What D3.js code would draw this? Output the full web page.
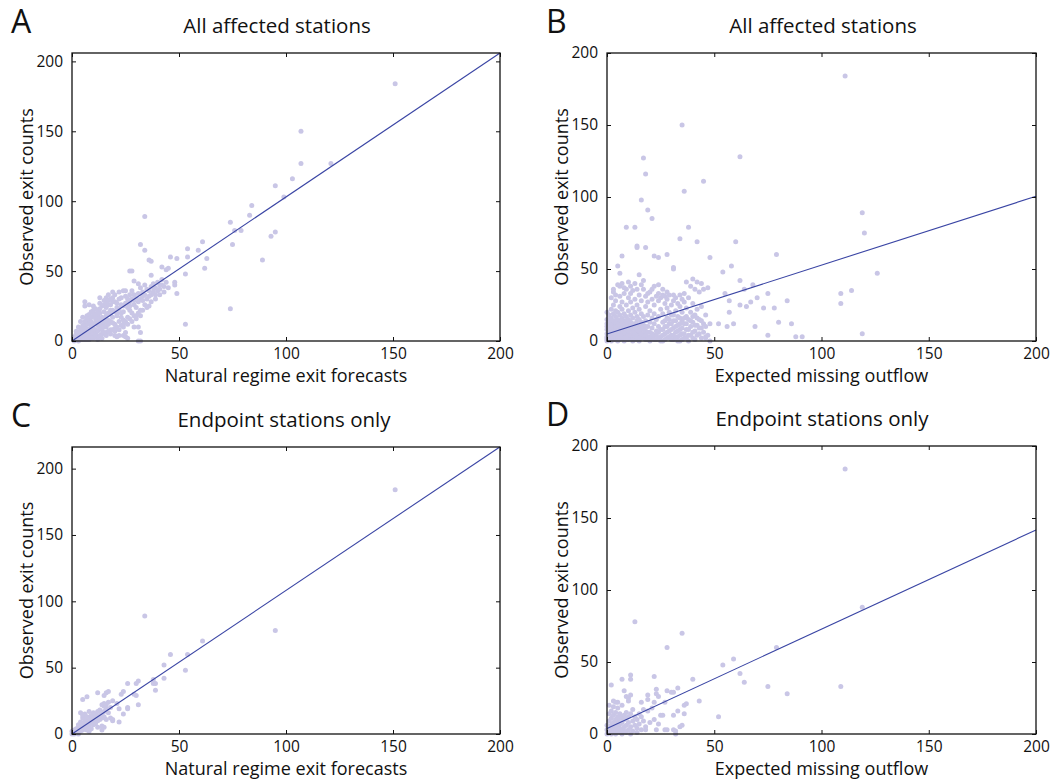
<!DOCTYPE html>
<html>
<head>
<meta charset="utf-8">
<script src="https://cdn.jsdelivr.net/npm/d3@7"></script>
<style>
  body { margin: 0; background: #fff; }
  svg text { font-family: "Open Sans", sans-serif; fill: #111; }
  .dot { fill: #c9c6e6; }
  .fit { stroke: #3a45a4; stroke-width: 1.1; fill: none; }
  .frame { fill: none; stroke: #111; stroke-width: 1.3; }
  .tick line { stroke: #111; }
</style>
</head>
<body>
<div id="chart"></div>
<script>
// panel titles / labels
const panelLetters = ["A", "B", "C", "D"];
const panelTitles = ["All affected stations", "All affected stations", "Endpoint stations only", "Endpoint stations only"];
const xLabels = ["Natural regime exit forecasts", "Expected missing outflow", "Natural regime exit forecasts", "Expected missing outflow"];
const yLabel = "Observed exit counts";
const xTicks = [0, 50, 100, 150, 200];
const yTicks = [0, 50, 100, 150, 200];
const xMax = [200, 200, 200, 200];
const yMax = [206, 200, 216.3, 200];

// fitted lines: [intercept, slope]
const fitA = [0, 1.03];
const fitB = [4.9, 0.478];
const fitC = [0, 1.082];
const fitD = [3.9, 0.689];

// A: natural regime forecast vs observed (all affected stations)
const pointsA = [
  [151, 184], [107, 150], [107, 127], [121, 127], [103, 116], [95, 111], [99, 103], [84, 97], [83, 90],
  [74, 85], [76, 79], [79, 79], [95, 78], [93, 75], [75, 69], [89, 58], [74, 23], [34, 89], [32, 69],
  [34, 65], [61, 71], [59, 65], [54, 66], [54, 60], [63, 59], [46, 60], [49, 59], [36, 58], [62, 52],
  [42, 53], [44, 51], [53, 48], [48, 42], [48, 40], [49, 34], [53, 12], [27, 50], [37, 47], [29, 43],
  [32, 0], [31, 0], [21, 3], [24, 4], [37, 57], [28, 50], [45, 52], [31, 41], [16, 31], [13, 31], [10, 25],
  [6, 25], [31, 10], [32, 6], [25, 3], [22, 4],
  [1, 0], [1, 2], [2, 1], [2, 3], [3, 2], [3, 4], [3, 0], [4, 5], [4, 3], [4, 1], [5, 6], [5, 2], [5, 8],
  [6, 4], [6, 7], [6, 10], [7, 5], [7, 9], [7, 3], [8, 8], [8, 12], [8, 6], [9, 10], [9, 4], [9, 14],
  [10, 9], [10, 12], [10, 7], [11, 13], [11, 16], [11, 8], [12, 11], [12, 15], [12, 18], [13, 12], [13, 9],
  [13, 20], [14, 14], [14, 17], [14, 11], [15, 16], [15, 21], [15, 13], [16, 18], [16, 24], [16, 10],
  [17, 15], [17, 20], [18, 19], [18, 26], [18, 14], [19, 22], [19, 17], [20, 21], [20, 28], [20, 9],
  [21, 24], [21, 18], [22, 23], [22, 30], [23, 20], [23, 26], [24, 25], [24, 15], [25, 27], [25, 32],
  [26, 24], [26, 30], [27, 28], [27, 22], [28, 30], [28, 36], [29, 26], [29, 33], [30, 31], [30, 24],
  [31, 34], [31, 28], [32, 30], [32, 38], [33, 35], [33, 29], [34, 33], [34, 40], [35, 37], [35, 30],
  [36, 36], [37, 39], [37, 33], [38, 41], [38, 35], [39, 38], [40, 42], [40, 36], [41, 40], [42, 44],
  [43, 39], [44, 42], [6, 28], [8, 26], [10, 22], [13, 27], [5, 17], [4, 14], [3, 10], [2, 7], [7, 18],
  [9, 21], [11, 23], [15, 29], [17, 33], [19, 35], [12, 3], [14, 5], [16, 6], [18, 8], [20, 12], [22, 14],
  [24, 10], [26, 17], [28, 20], [30, 18], [32, 22], [36, 25], [26, 2], [20, 4], [25, 6], [29, 10],
  [1, 1], [2, 2], [3, 3], [2, 5], [4, 7], [5, 4], [6, 2], [7, 1], [8, 3], [9, 7], [10, 4], [11, 5],
  [12, 7], [13, 16], [14, 8], [15, 10], [16, 14], [17, 12], [18, 22], [19, 13], [21, 20], [23, 17],
  [24, 21], [26, 27], [27, 25], [29, 29], [33, 32], [36, 32], [38, 38], [39, 33], [41, 37], [42, 40],
  [17, 26], [19, 28], [21, 27], [23, 31], [25, 36], [27, 33], [10, 18], [8, 16], [7, 13], [6, 12],
  [3, 6], [4, 9], [5, 11], [6, 14], [7, 16], [8, 19], [9, 17], [10, 20], [11, 19], [12, 21], [13, 23],
  [14, 25], [15, 26], [16, 27], [17, 29], [18, 30], [19, 31], [20, 33], [22, 35], [24, 36], [1, 3],
  [2, 4], [3, 1], [4, 2], [5, 1], [6, 1], [7, 2], [8, 1], [9, 2], [10, 2], [11, 3], [12, 1], [13, 4],
  [14, 2], [15, 6], [16, 4], [17, 7], [18, 5], [19, 8], [20, 7], [21, 10], [22, 8], [23, 11], [24, 12],
  [25, 14], [26, 12], [27, 16], [28, 14], [29, 18], [30, 16], [31, 20], [32, 18], [33, 22], [34, 26],
  [35, 24], [37, 28], [39, 30], [41, 33], [43, 35], [45, 38]
];

// B: expected missing outflow vs observed (all affected stations)
const pointsB = [
  [111, 184], [35, 150], [17, 127], [62, 128], [18, 116], [45, 111], [36, 104], [16, 98], [19, 91],
  [21, 85], [119, 89], [120, 75], [9, 79], [13, 79], [38, 79], [14, 66], [14, 65], [18, 65], [34, 71],
  [42, 69], [60, 69], [7, 59], [22, 59], [24, 58], [28, 60], [48, 58], [79, 60], [5, 52], [31, 51],
  [31, 50], [58, 52], [54, 48], [126, 47], [6, 47], [15, 46], [62, 42], [109, 33], [114, 35], [109, 26],
  [75, 33], [84, 28], [78, 23], [73, 23], [67, 27], [62, 25], [65, 24], [57, 28], [57, 20], [55, 33],
  [59, 12], [56, 10], [52, 12], [80, 13], [86, 12], [69, 10], [75, 4], [88, 3], [91, 3], [119, 5],
  [48, 0], [46, 3], [68, 39], [64, 36], [70, 30],
  [0, 2], [0, 5], [0, 8], [0, 12], [0, 20], [1, 1], [1, 4], [1, 7], [1, 10], [1, 15], [1, 18], [2, 0],
  [2, 3], [2, 6], [2, 9], [2, 13], [2, 16], [2, 22], [2, 30], [3, 1], [3, 5], [3, 8], [3, 11], [3, 14],
  [3, 19], [3, 25], [3, 34], [3, 36], [4, 2], [4, 4], [4, 7], [4, 12], [4, 17], [4, 21], [4, 28], [5, 0],
  [5, 3], [5, 6], [5, 10], [5, 15], [5, 20], [5, 39], [6, 1], [6, 5], [6, 9], [6, 13], [6, 18], [6, 24],
  [6, 31], [6, 38], [7, 2], [7, 7], [7, 11], [7, 16], [7, 22], [7, 27], [7, 40], [8, 0], [8, 4], [8, 8],
  [8, 14], [8, 19], [8, 33], [9, 3], [9, 6], [9, 12], [9, 17], [9, 25], [9, 36], [10, 1], [10, 5],
  [10, 10], [10, 15], [10, 21], [10, 30], [10, 41], [11, 2], [11, 8], [11, 13], [11, 18], [11, 27],
  [11, 38], [12, 0], [12, 4], [12, 9], [12, 16], [12, 23], [12, 35], [13, 3], [13, 7], [13, 12],
  [13, 20], [13, 29], [13, 40], [14, 1], [14, 6], [14, 11], [14, 17], [14, 25], [15, 0], [15, 4],
  [15, 9], [15, 15], [15, 22], [15, 32], [16, 2], [16, 8], [16, 13], [16, 19], [16, 28], [17, 5],
  [17, 11], [17, 17], [17, 36], [17, 42], [18, 1], [18, 7], [18, 14], [18, 24], [18, 31], [19, 3],
  [19, 10], [19, 18], [19, 27], [20, 0], [20, 6], [20, 13], [20, 21], [20, 34], [21, 2], [21, 9],
  [21, 16], [21, 29], [22, 4], [22, 12], [22, 19], [22, 25], [22, 38], [23, 1], [23, 7], [23, 15],
  [23, 31], [24, 10], [24, 17], [24, 28], [24, 33], [25, 3], [25, 8], [25, 22], [25, 30], [26, 0],
  [26, 13], [26, 19], [26, 32], [27, 5], [27, 10], [27, 26], [27, 31], [28, 2], [28, 16], [28, 23],
  [28, 29], [29, 7], [29, 12], [29, 20], [29, 32], [30, 4], [30, 18], [30, 25], [31, 1], [31, 9],
  [31, 14], [31, 28], [31, 32], [32, 6], [32, 21], [32, 30], [33, 3], [33, 11], [33, 17], [33, 26],
  [34, 0], [34, 8], [34, 24], [34, 32], [35, 5], [35, 14], [35, 20], [35, 29], [36, 2], [36, 12],
  [36, 27], [36, 33], [37, 8], [37, 17], [37, 23], [37, 41], [38, 4], [38, 15], [38, 30], [39, 10],
  [39, 20], [39, 38], [40, 2], [40, 13], [40, 26], [40, 43], [41, 7], [41, 18], [41, 36], [42, 11],
  [42, 22], [42, 41], [43, 5], [43, 15], [43, 34], [44, 9], [44, 24], [44, 40], [45, 12], [45, 36],
  [46, 2], [46, 18], [47, 37], [48, 12],
  [20, 3], [21, 5], [22, 1], [23, 4], [24, 2], [24, 6], [25, 0], [26, 4], [26, 8], [27, 1], [27, 14],
  [28, 6], [28, 10], [29, 3], [29, 15], [30, 1], [30, 8], [30, 12], [31, 4], [31, 18], [32, 2], [32, 10],
  [32, 14], [33, 0], [33, 7], [34, 4], [34, 12], [34, 16], [35, 1], [35, 9], [36, 5], [36, 16], [37, 2],
  [37, 12], [38, 0], [38, 8], [39, 4], [39, 14], [40, 6], [40, 17], [41, 1], [41, 11], [42, 4], [42, 16],
  [43, 9], [44, 2], [44, 14], [45, 6], [46, 10], [47, 4],
  [0, 0], [0, 1], [0, 3], [0, 10], [0, 15], [1, 2], [1, 5], [1, 12], [2, 1], [2, 4], [2, 8], [2, 11],
  [3, 2], [3, 6], [3, 9], [4, 1], [4, 5], [4, 9], [4, 14], [5, 2], [5, 7], [5, 12], [6, 3], [6, 7],
  [6, 11], [7, 4], [7, 9], [7, 14], [8, 2], [8, 6], [8, 11], [9, 1], [9, 8], [9, 14], [10, 3], [10, 7],
  [10, 12], [11, 4], [11, 10], [12, 2], [12, 6], [12, 12], [13, 1], [13, 5], [13, 9], [14, 3], [14, 8],
  [14, 14], [15, 2], [15, 7], [16, 5], [16, 11], [17, 2], [17, 8], [18, 4], [18, 10], [19, 1], [19, 6],
  [11, 33], [14, 36], [16, 39], [19, 33], [21, 36], [24, 39], [26, 36], [28, 34], [8, 37], [4, 32]
];

// C: natural regime forecast vs observed (endpoint stations)
const pointsC = [
  [151, 184], [34, 89], [95, 78], [61, 70], [46, 60], [54, 60], [43, 52], [53, 48], [43, 42], [38, 41],
  [39, 33], [38, 38], [39, 38], [26, 38], [31, 40], [30, 38], [31, 22], [30, 29], [29, 30], [24, 32],
  [23, 30], [22, 9], [19, 11], [21, 23], [26, 20], [26, 19], [24, 15], [12, 31], [7, 28], [5, 26],
  [16, 31], [17, 32], [15, 29], [15, 21], [16, 11], [14, 3], [22, 19], [19, 10], [15, 5], [14, 6],
  [0, 0], [0, 2], [1, 1], [1, 3], [1, 0], [2, 2], [2, 4], [2, 1], [3, 3], [3, 5], [3, 0], [3, 7],
  [4, 4], [4, 6], [4, 2], [4, 9], [4, 16], [5, 5], [5, 8], [5, 3], [5, 12], [5, 14], [6, 6], [6, 9],
  [6, 4], [6, 11], [6, 15], [7, 7], [7, 10], [7, 5], [7, 13], [7, 3], [8, 8], [8, 12], [8, 6], [8, 17],
  [8, 2], [9, 9], [9, 14], [9, 11], [9, 4], [10, 10], [10, 13], [10, 7], [10, 16], [11, 12], [11, 15],
  [11, 8], [12, 13], [12, 17], [12, 10], [12, 5], [13, 14], [13, 18], [13, 11], [14, 15], [14, 22],
  [14, 12], [15, 23], [15, 17], [15, 13], [16, 22], [16, 19], [17, 24], [17, 16], [18, 20], [18, 12],
  [19, 25]
];

// D: expected missing outflow vs observed (endpoint stations)
const pointsD = [
  [111, 184], [119, 88], [13, 78], [35, 70], [28, 60], [79, 60], [59, 52], [54, 48], [62, 42], [64, 36],
  [75, 33], [109, 33], [84, 28], [52, 12], [43, 23], [40, 38], [37, 21], [36, 20], [36, 14], [33, 16],
  [34, 5], [35, 6], [32, 2], [31, 3], [27, 3], [23, 3], [18, 3], [11, 41], [11, 38], [22, 40], [7, 38],
  [2, 34], [28, 30], [30, 29], [31, 29], [33, 32], [23, 31], [23, 28], [19, 27], [19, 24], [22, 22],
  [25, 13], [22, 10], [27, 22], [9, 26], [11, 27], [10, 23], [1, 20], [3, 23], [5, 22], [16, 22],
  [14, 4], [17, 17], [16, 12], [31, 13], [26, 13], [32, 0], [28, 3], [24, 7], [4, 22], [10, 25],
  [0, 0], [0, 3], [0, 6], [1, 1], [1, 4], [1, 9], [1, 14], [2, 0], [2, 2], [2, 6], [2, 11], [2, 16],
  [3, 1], [3, 4], [3, 8], [3, 13], [3, 19], [4, 0], [4, 3], [4, 6], [4, 10], [4, 15], [5, 2], [5, 5],
  [5, 9], [5, 12], [5, 18], [6, 1], [6, 4], [6, 7], [6, 11], [6, 14], [7, 0], [7, 3], [7, 8], [7, 12],
  [7, 20], [8, 2], [8, 5], [8, 10], [8, 13], [9, 1], [9, 6], [9, 11], [9, 15], [10, 3], [10, 8], [10, 12],
  [11, 0], [11, 5], [11, 14], [12, 2], [12, 9], [12, 17], [13, 6], [13, 12], [14, 1], [14, 10],
  [15, 7], [15, 14], [16, 3], [17, 9], [18, 5], [19, 16], [20, 8], [21, 18], [24, 26], [8, 30]
];

const panelPoints = [pointsA, pointsB, pointsC, pointsD];
const panelFits = [fitA, fitB, fitC, fitD];

// layout of each axes box in the 1058x783 window
const boxes = [
  { left: 72, right: 500, top: 53, bottom: 341, titleX: 277 },
  { left: 607, right: 1036, top: 53, bottom: 341, titleX: 823 },
  { left: 72, right: 500, top: 447, bottom: 734, titleX: 284 },
  { left: 607, right: 1036, top: 446, bottom: 734, titleX: 822 },
];

const svg = d3.select("#chart")
  .append("svg")
  .attr("width", 1058)
  .attr("height", 783);

boxes.forEach((b, i) => {
  const x = d3.scaleLinear().domain([0, xMax[i]]).range([b.left, b.right]);
  const y = d3.scaleLinear().domain([0, yMax[i]]).range([b.bottom, b.top]);
  const g = svg.append("g").attr("class", "panel");

  //points
  g.selectAll("circle.dot")
    .data(panelPoints[i])
    .join("circle")
    .attr("class", "dot")
    .attr("cx", (d) => x(d[0]))
    .attr("cy", (d) => y(d[1]))
    .attr("r", 2.5);

  //fit line, clipped to the box
  const [a, s] = panelFits[i];
  const xEnd = Math.min(xMax[i], (yMax[i] - a) / s);
  g.append("line")
    .attr("class", "fit")
    .attr("x1", x(0)).attr("y1", y(a))
    .attr("x2", x(xEnd)).attr("y2", y(a + s * xEnd));

  //axes, ticks inward on all four sides
  const tk = 4;
  g.append("g")
    .attr("transform", `translate(0,${b.bottom})`)
    .call(d3.axisBottom(x).tickValues(xTicks).tickSizeInner(-tk).tickSizeOuter(0).tickPadding(7))
    .call((ax) => ax.select(".domain").remove())
    .selectAll("text").attr("font-size", 15.5).attr("dy", "0.71em");
  g.append("g")
    .attr("transform", `translate(0,${b.top})`)
    .call(d3.axisTop(x).tickValues(xTicks).tickSizeInner(-tk).tickSizeOuter(0).tickFormat(""))
    .call((ax) => ax.select(".domain").remove());
  g.append("g")
    .attr("transform", `translate(${b.left},0)`)
    .call(d3.axisLeft(y).tickValues(yTicks).tickSizeInner(-tk).tickSizeOuter(0).tickPadding(9))
    .call((ax) => ax.select(".domain").remove())
    .selectAll("text").attr("font-size", 15.5);
  g.append("g")
    .attr("transform", `translate(${b.right},0)`)
    .call(d3.axisRight(y).tickValues(yTicks).tickSizeInner(-tk).tickSizeOuter(0).tickFormat(""))
    .call((ax) => ax.select(".domain").remove());
  g.selectAll(".tick text").attr("fill", "#111");

  g.append("rect")
    .attr("class", "frame")
    .attr("x", b.left).attr("y", b.top)
    .attr("width", b.right - b.left).attr("height", b.bottom - b.top);

  //texts
  const cx = (b.left + b.right) / 2;
  g.append("text")
    .attr("x", b.titleX).attr("y", b.top - 20)
    .attr("text-anchor", "middle")
    .attr("font-size", 20.5)
    .text(panelTitles[i]);
  g.append("text")
    .attr("x", b.left - 61).attr("y", b.top - 20)
    .attr("font-size", 32)
    .text(panelLetters[i]);
  g.append("text")
    .attr("x", cx).attr("y", b.bottom + 41)
    .attr("text-anchor", "middle")
    .attr("font-size", 18)
    .text(xLabels[i]);
  g.append("text")
    .attr("transform", `translate(${b.left - 39},${(b.top + b.bottom) / 2})rotate(-90)`)
    .attr("text-anchor", "middle")
    .attr("font-size", 18)
    .text(yLabel);
});
</script>
</body>
</html>
